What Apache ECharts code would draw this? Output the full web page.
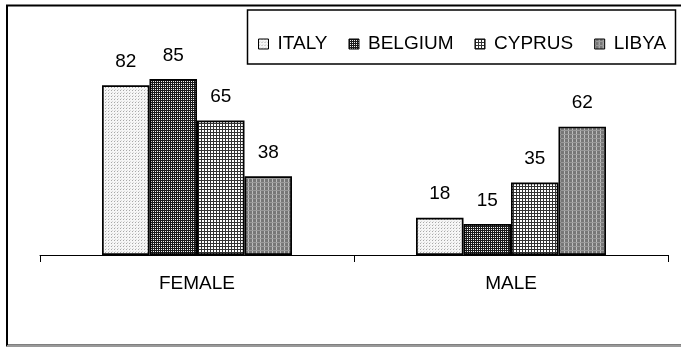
<!DOCTYPE html>
<html>
<head>
<meta charset="utf-8">
<script src="https://cdn.jsdelivr.net/npm/echarts@6/dist/echarts.min.js"></script>
<style>
  html, body { margin: 0; padding: 0; background: #fff; }
  #chart { width: 681px; height: 348px; }
</style>
</head>
<body>
<div id="chart"></div>
<script>
// Chart data
const categories = ['FEMALE', 'MALE'];
const countries = ['ITALY', 'BELGIUM', 'CYPRUS', 'LIBYA'];
const italy = [82, 18];
const belgium = [85, 15];
const cyprus = [65, 35];
const libya = [38, 62];
const seriesValues = [italy, belgium, cyprus, libya];

// Small repeating hatch tiles, one per country
function tile(size, painter) {
  const c = document.createElement('canvas');
  c.width = size; c.height = size;
  const g = c.getContext('2d');
  painter(g, size);
  return { image: c, repeat: 'repeat' };
}
const patterns = [
  // light stipple
  tile(3, (g, s) => { g.fillStyle = '#f6f6f6'; g.fillRect(0, 0, s, s); g.fillStyle = '#a8a8a8'; g.fillRect(0, 0, 1, 1); g.fillStyle = '#d8d8d8'; g.fillRect(1, 2, 1, 1); }),
  // dense dark check
  tile(2, (g, s) => { g.fillStyle = '#f0f0f0'; g.fillRect(0, 0, s, s); g.fillStyle = '#1a1a1a'; g.fillRect(0, 0, 2, 1); g.fillRect(0, 0, 1, 2); }),
  // open grid
  tile(3, (g, s) => { g.fillStyle = '#ffffff'; g.fillRect(0, 0, s, s); g.fillStyle = '#333'; g.fillRect(0, 0, 3, 1); g.fillRect(0, 0, 1, 3); }),
  // mid grey with light vertical lines
  tile(4, (g, s) => { g.fillStyle = '#777'; g.fillRect(0, 0, s, s); g.fillStyle = '#bdbdbd'; g.fillRect(0, 0, 1, s); g.fillStyle = '#999'; g.fillRect(0, 2, s, 1); })
];

const FONT = '"Liberation Sans", Arial, sans-serif';
const chart = echarts.init(document.getElementById('chart'), null, { renderer: 'canvas' });

chart.setOption({
  animation: false,
  backgroundColor: '#ffffff',
  grid: { left: 40, right: 13, top: 48, bottom: 93 },
  legend: {
    data: countries,
    left: 258,
    top: 34,
    orient: 'horizontal',
    padding: 0,
    itemWidth: 10,
    itemHeight: 10,
    itemGap: 21,
    icon: 'rect',
    textStyle: { fontFamily: FONT, fontSize: 19, lineHeight: 20, color: '#000', padding: [0, 0, 0, 4] },
    itemStyle: { borderColor: '#000', borderWidth: 1 }
  },
  xAxis: {
    type: 'category',
    data: categories,
    axisLine: { lineStyle: { color: '#000', width: 1 } },
    axisTick: { show: true, length: 7, lineStyle: { color: '#000', width: 1 } },
    axisLabel: { fontFamily: FONT, fontSize: 19, color: '#000', margin: 19 }
  },
  yAxis: {
    type: 'value',
    min: 0,
    max: 100,
    show: false,
    splitLine: { show: false }
  },
  series: countries.map((name, i) => ({
    name: name,
    type: 'bar',
    data: seriesValues[i],
    barGap: '0%',
    barCategoryGap: '39.5%',
    itemStyle: { color: patterns[i], borderColor: '#000', borderWidth: 1.7 },
    label: {
      show: true,
      position: 'top',
      distance: 14,
      fontFamily: FONT,
      fontSize: 19,
      color: '#000'
    }
  })),
  graphic: [
    // outer chart frame
    { type: 'rect', z: -1, silent: true, shape: { x: 7, y: 5.5, width: 700, height: 340 }, style: { fill: 'none', stroke: '#000', lineWidth: 2 } },
    { type: 'line', z: -1, silent: true, shape: { x1: 7, y1: 346, x2: 681, y2: 346 }, style: { stroke: '#999', lineWidth: 2 } },
    // legend frame
    { type: 'rect', z: -1, silent: true, shape: { x: 247.5, y: 10, width: 428, height: 54 }, style: { fill: '#fff', stroke: '#000', lineWidth: 1.5 } }
  ]
});
</script>
</body>
</html>
